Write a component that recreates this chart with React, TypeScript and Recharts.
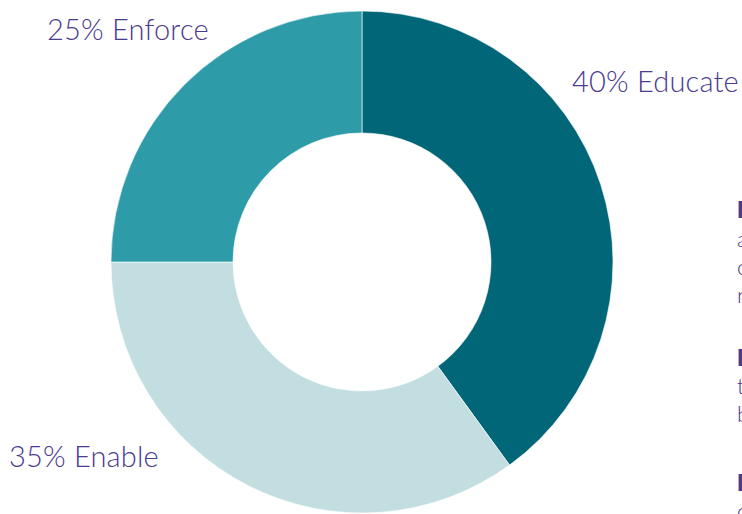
import React from 'react';
import { PieChart, Pie, Cell } from 'recharts';

const categories = ['Educate', 'Enable', 'Enforce'];
const values = [40, 35, 25];
const colors = ['#026679', '#C2DEE1', '#2D9CA8'];
const labelOffsets = [
  { dx: 210, dy: -170 },
  { dx: -353, dy: 205 },
  { dx: -315, dy: -222 },
];
const sideFragments = [
  { t: 'I', y: 218, bold: true },
  { t: 'a', y: 247 },
  { t: 'c', y: 275 },
  { t: 'r', y: 303 },
  { t: 'I', y: 366, bold: true },
  { t: 't', y: 394 },
  { t: 'b', y: 422 },
  { t: 'I', y: 491, bold: true },
  { t: 'c', y: 519 },
];

const data = categories.map((c, i) => ({ name: c, value: values[i] }));

const FONT = 'Lato, "Noto Sans", sans-serif';

const renderLabel = (props: any) => {
  const { cx, cy, index, name, value } = props;
  const o = labelOffsets[index];
  return (
    <text
      x={cx + o.dx}
      y={cy + o.dy}
      fill="#4B3A8F"
      fontFamily={FONT}
      fontWeight={300}
      fontSize={29}
      letterSpacing={0.2}
      textAnchor="start"
    >
      {`${value}% ${name}`}
    </text>
  );
};

export default function App() {
  return (
    <div style={{ position: 'absolute', left: 0, top: 0, width: 742, height: 514, background: '#fff' }}>
      <PieChart width={742} height={514} margin={{ top: 0, right: 0, bottom: 0, left: 0 }}>
        <Pie
          data={data}
          dataKey="value"
          nameKey="name"
          cx={362}
          cy={262}
          innerRadius={129}
          outerRadius={251}
          startAngle={90}
          endAngle={-270}
          stroke="#ffffff"
          strokeWidth={0.6}
          label={renderLabel}
          labelLine={false}
          isAnimationActive={false}
        >
          {data.map((d, i) => (
            <Cell key={d.name} fill={colors[i]} />
          ))}
        </Pie>
        <g>
          {sideFragments.map((f, i) => (
            <text
              key={i}
              x={737}
              y={f.y}
              fill="#4B3A8F"
              fontFamily={FONT}
              fontWeight={f.bold ? 800 : 300}
              fontSize={22}
            >
              {f.t}
            </text>
          ))}
        </g>
      </PieChart>
    </div>
  );
}
